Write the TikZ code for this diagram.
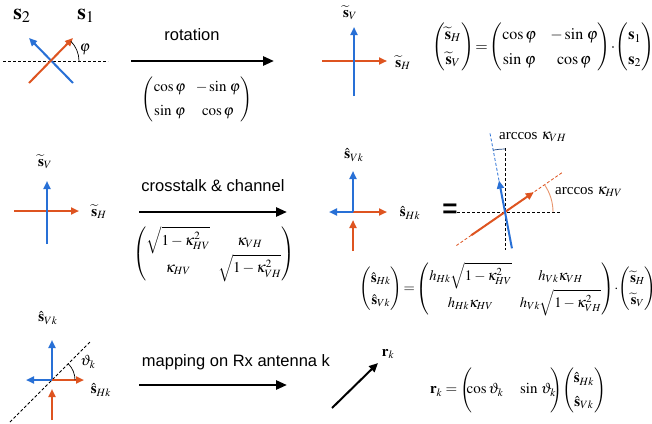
\documentclass[tikz,border=0pt]{standalone}
\usepackage{amsmath}
\usepackage{mathptmx}
\usepackage{fontspec}
\setmainfont{Liberation Serif}
\setsansfont{Liberation Sans}
\usetikzlibrary{arrows.meta,calc}
\definecolor{myblue}{RGB}{40,112,214}
\definecolor{myred}{RGB}{222,84,32}
\definecolor{myarc}{RGB}{232,150,110}
\renewcommand{\arraystretch}{1.3}
\begin{document}
\begin{tikzpicture}[x=1pt,y=-1pt,
  bluearr/.style={draw=myblue,line width=2pt,-{Triangle[length=8pt,width=7pt]}},
  redarr/.style={draw=myred,line width=2pt,-{Triangle[length=8pt,width=7pt]}},
  bigarrow/.style={draw=black,line width=2.6pt,-{Triangle[length=11pt,width=9pt]}},
  guide/.style={draw=black,dashed,line width=0.8pt,dash pattern=on 3pt off 2pt},
  lbl/.style={inner sep=0pt,font=\fontsize{15}{18}\selectfont},
  biglbl/.style={inner sep=0pt,font=\fontsize{22}{26}\selectfont},
  eqn/.style={inner sep=0pt,font=\fontsize{15}{18}\selectfont},
  txt/.style={inner sep=0pt,font=\sffamily\fontsize{16.5}{20}\selectfont}]
\useasboundingbox[fill=white] (0,0) rectangle (652,423);

% ---------- Row 1 ----------
\coordinate (o1) at (51,61);
\coordinate (h1a) at (3,61);
\coordinate (h1b) at (108,61);
\draw[guide] (h1a) -- (h1b);
\coordinate (b1s) at (73,83); \coordinate (b1e) at (29,38);
\coordinate (r1s) at (29,83); \coordinate (r1e) at (73,38);
\draw[bluearr] (b1s) -- (b1e);
\draw[redarr] (r1s) -- (r1e);
\draw[line width=0.7pt] ($(o1)+(28,0)$) arc[start angle=0,end angle=-45,radius=28];
\node[lbl] (phi1) at (85,49) {$\varphi$};
\node[biglbl] (s2) at (22,16) {$\mathbf{s}_2$};
\node[biglbl] (s1) at (86,16) {$\mathbf{s}_1$};

\node[txt] (rot) at (192,35) {rotation};
\coordinate (a1s) at (131,61); \coordinate (a1e) at (274,61);
\draw[bigarrow] (a1s) -- (a1e);
\node[eqn] (m1) at (197,99) {$\begin{pmatrix}\cos\varphi & -\sin\,\varphi\\ \sin\,\varphi & \cos\varphi\end{pmatrix}$};

\coordinate (o2) at (354,61);
\coordinate (r2s) at (322,61); \coordinate (r2e) at (387,61);
\coordinate (b2s) at (354,96); \coordinate (b2e) at (354,27);
\draw[redarr] (r2s) -- (r2e);
\draw[bluearr] (b2s) -- (b2e);
\node[lbl] (sv1) at (350,13) {$\widetilde{\mathbf{s}}_V$};
\node[lbl] (sh1) at (403,63) {$\widetilde{\mathbf{s}}_H$};

\node[eqn,font=\fontsize{16}{19}\selectfont] (eq1) at (543,47) {\setlength{\arraycolsep}{7pt}$\begin{pmatrix}\widetilde{\mathbf{s}}_H\\ \widetilde{\mathbf{s}}_V\end{pmatrix}\!=\!\begin{pmatrix}\cos\varphi & -\sin\,\varphi\\ \sin\,\varphi & \cos\varphi\end{pmatrix}\!\cdot\!\begin{pmatrix}\mathbf{s}_1\\ \mathbf{s}_2\end{pmatrix}$};

% ---------- Row 2 ----------
\coordinate (r3s) at (14,211); \coordinate (r3e) at (79,211);
\coordinate (b3s) at (47,244); \coordinate (b3e) at (47,181);
\draw[redarr] (r3s) -- (r3e);
\draw[bluearr] (b3s) -- (b3e);
\node[lbl] (sv2) at (45,162) {$\widetilde{\mathbf{s}}_V$};
\node[lbl] (sh2) at (99,212) {$\widetilde{\mathbf{s}}_H$};

\node[txt] (xt) at (213,186) {crosstalk \& channel};
\coordinate (a2s) at (139,212); \coordinate (a2e) at (287,212);
\draw[bigarrow] (a2s) -- (a2e);
\node[eqn] (m2) at (214,254) {\setlength{\arraycolsep}{4pt}$\begin{pmatrix}\sqrt{1-\kappa_{HV}^2} & \kappa_{VH}\\ \kappa_{HV} & \sqrt{1-\kappa_{VH}^2}\end{pmatrix}$};

\coordinate (o3) at (353,212);
\coordinate (r4e) at (387,212);
\coordinate (b4e) at (329,212);
\coordinate (b5e) at (353,171);
\coordinate (r5s) at (353,251); \coordinate (r5e) at (353,220);
\draw[redarr] (o3) -- (r4e);
\draw[bluearr] (o3) -- (b4e);
\draw[bluearr] (o3) -- (b5e);
\draw[redarr] (r5s) -- (r5e);
\node[lbl] (sv3) at (354,155) {$\hat{\mathbf{s}}_{Vk}$};
\node[lbl] (sh3) at (410,213) {$\hat{\mathbf{s}}_{Hk}$};
\node[inner sep=0pt,font=\sffamily\bfseries\fontsize{26}{26}\selectfont] (eqsign) at (450,211) {=};

\coordinate (o4) at (505,212);
\coordinate (g1a) at (457,212); \coordinate (g1b) at (560,212);
\coordinate (g2a) at (505,148); \coordinate (g2b) at (505,250);
\draw[guide] (g1a) -- (g1b);
\draw[guide] (g2a) -- (g2b);
% red line
\coordinate (rd0) at ($(o4)+(-34.6:-59)$);
\coordinate (rd1) at ($(o4)+(-34.6:69)$);
\coordinate (rs0) at ($(o4)+(-34.6:-41)$);
\coordinate (rs1) at ($(o4)+(-34.6:35)$);
\draw[myred,dashed,line width=0.8pt,dash pattern=on 3pt off 2pt] (rd0) -- (rd1);
\draw[redarr] (rs0) -- (rs1);
\draw[myarc,line width=0.9pt] ($(o4)+(48,0)$) arc[start angle=0,end angle=-34.6,radius=48];
% blue line
\coordinate (bd1) at ($(o4)+(-100.8:81)$);
\coordinate (bs0) at ($(o4)+(-100.8:-37)$);
\coordinate (bs1) at ($(o4)+(-100.8:32)$);
\draw[myblue,dashed,line width=0.8pt,dash pattern=on 3pt off 2pt] (bs1) -- (bd1);
\draw[bluearr] (bs0) -- (bs1);
\draw[myblue!60!black,line width=0.7pt] ($(o4)+(-90:63)$) arc[start angle=-90,end angle=-100.8,radius=63];
\node[lbl,anchor=west] (acvh) at (499,137) {arccos $\kappa_{VH}$};
\node[lbl,anchor=west] (achv) at (555,192) {arccos $\kappa_{HV}$};

\node[eqn,font=\fontsize{14.5}{17}\selectfont] (eq2) at (508,289) {\setlength{\arraycolsep}{4pt}$\begin{pmatrix}\hat{\mathbf{s}}_{Hk}\\ \hat{\mathbf{s}}_{Vk}\end{pmatrix}\!=\!\begin{pmatrix} h_{Hk}\sqrt{1-\kappa_{HV}^2} & h_{Vk}\kappa_{VH}\\ h_{Hk}\kappa_{HV} & h_{Vk}\sqrt{1-\kappa_{VH}^2}\end{pmatrix}\!\cdot\!\begin{pmatrix}\widetilde{\mathbf{s}}_H\\ \widetilde{\mathbf{s}}_V\end{pmatrix}$};

% ---------- Row 3 ----------
\coordinate (o5) at (52,380);
\coordinate (d5a) at (10,422); \coordinate (d5b) at (91,341);
\draw[guide] (d5a) -- (d5b);
\coordinate (r6s) at (52,420); \coordinate (r6e) at (52,389);
\coordinate (b6e) at (52,340);
\coordinate (b7e) at (26,380);
\coordinate (r7e) at (84,380);
\draw[redarr] (r6s) -- (r6e);
\draw[bluearr] (o5) -- (b6e);
\draw[bluearr] (o5) -- (b7e);
\draw[redarr] (o5) -- (r7e);
\draw[line width=0.7pt] ($(o5)+(23,0)$) arc[start angle=0,end angle=-45,radius=23];
\node[lbl] (th) at (88,362) {$\vartheta_k$};
\node[lbl] (sv4) at (48,318) {$\hat{\mathbf{s}}_{Vk}$};
\node[lbl] (sh4) at (101,390) {$\hat{\mathbf{s}}_{Hk}$};

\node[txt] (map) at (236,362) {mapping on Rx antenna k};
\coordinate (a3s) at (139,385); \coordinate (a3e) at (287,385);
\draw[bigarrow] (a3s) -- (a3e);

\coordinate (rk0) at (332,408); \coordinate (rk1) at (378,363);
\draw[draw=black,line width=2pt,-{Triangle[length=9pt,width=8pt]}] (rk0) -- (rk1);
\node[lbl] (rk) at (388,354) {$\mathbf{r}_k$};

\node[eqn] (eq3) at (518,390) {$\mathbf{r}_k=\left(\vphantom{\begin{matrix}\hat{\mathbf{s}}_{Hk}\\ \hat{\mathbf{s}}_{Vk}\end{matrix}}\mkern-9mu\cos\vartheta_k\quad\sin\,\vartheta_k\mkern-6mu\right)\mkern-3mu\begin{pmatrix}\hat{\mathbf{s}}_{Hk}\\ \hat{\mathbf{s}}_{Vk}\end{pmatrix}$};
\end{tikzpicture}
\end{document}
